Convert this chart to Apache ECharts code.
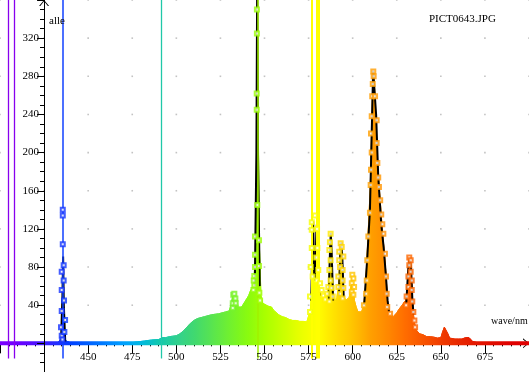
<!DOCTYPE html>
<html><head><meta charset="utf-8">
<script src="https://cdn.jsdelivr.net/npm/echarts@6/dist/echarts.min.js"></script>
<style>html,body{margin:0;padding:0;background:#fff}#c{width:529px;height:372px}</style>
</head><body><div id="c"></div>
<script>
// ---------------- data ----------------
const wavelengthNm = [400,430,431,433,434,434.5,435,435.5,436,436.5,437,438,440,445,470,474,478,482,486,490,491,492,493,494,496,498,500,502,503,504,505,506,507,508,509,510,511,512,514,516,518,520,522,524,526,528,530,531,532,533,534,535,536,537,538,539,540,541,542,543,544,545,545.5,546,546.5,547,548,549,550,552,554,555,556,558,560,562,564,566,568,570,572,574,575,576,576.5,577,577.5,578,579,579.5,580,581,582,583,584,585,586,587,587.5,588,588.5,589,590,591,592,592.5,593,593.5,594,594.5,595,596,597,598,599,599.5,600,600.5,601,602,603,604,605,606,606.5,607,608,609,610,610.5,611,611.5,612,612.5,613,614,615,616,617,618,619,619.5,620,621,622,623,624,625,626,627,628,629,630,630.5,631,631.5,632,632.5,633,633.5,634,634.5,635,636,637,638,640,642,644,646,648,650,651,652,653,654,655,656,658,660,662,664,665,666,667,668,670,672,674,700];
const intensity = [0,0,0.5,1,2,5,12,22,26,10,3,1,0.5,0,0,0.5,1.5,2.5,3.5,4,5,6,5,6,7,7.5,8,10,11.5,13,15,17,19,21,22.5,24,25,26,27,28,29,30,30.5,31,32,33,34,40,50,52,49,38,37,38,41,44,47,50,55,58,66,100,200,330,230,108,50,42,40,39,38,35,33,30,28,27,25,24,24,23,23,22.5,24,35,50,70,125,65,60,115,70,55,52,48,45,48,55,80,110,100,70,50,44,48,60,80,95,100,90,70,50,45,44,48,60,70,66,55,45,38,33,31,33,38,45,53,85,125,165,205,245,280,285,265,240,195,165,140,115,94,70,52,40,31,29,28,30,32,35,37,40,42,45,50,60,75,88,90,80,65,45,30,22,14,12,10,9,7,7,6.5,5.5,6,12,17,17,10,5.5,5,4.5,4.5,4.5,6,6.5,6,4,2,1,0.5,0,0];
const baselineNm = [400, 700];
const baselineVal = [0, 0];
const peakLineNm  = [434.6,435.4,435.8,436.2,437.0,null,544.5,545.4,545.9,546.3,547.3,null,576.5,577.2,577.6,578.2,578.8,579.4,579.8,580.4,581.2,null,586.3,587.2,587.6,588.1,588.9,null,592.2,593.0,593.5,594.1,594.9,null,606.5,608.3,609.8,610.8,611.6,612.2,613.3,614.5,616.2,617.6,618.8,619.8,620.6,null,630.4,631.5,632.3,633.1,633.8,634.5];
const peakLineVal = [2,50,91,40,2,null,60,200,400,200,60,null,45,110,128,70,66,118,126,70,50,null,45,100,116,95,45,null,50,95,106,92,48,null,40,90,140,220,286,284,240,175,125,100,72,45,33,null,42,78,90,80,48,30];
const markerNm = [435.0,434.6,435.0,435.0,435.0,435.6,435.6,435.6,436.1,436.1,436.3,436.9,436.5,435.4,
  532.0,532.0,532.3,532.9,533.5,533.7,
  544.2,543.7,543.9,544.2,544.6,544.6,544.6,545.9,545.6,545.6,545.7,545.7,546.9,546.9,547.1,547.5,
  575.8,575.8,576.2,576.8,576.8,576.8,578.6,577.3,579.6,580.5,581.5,582.4,583.4,584.5,579.8,580.0,579.3,
  585.6,586.2,586.8,586.8,586.8,587.1,587.5,587.5,587.5,588.1,588.7,
  591.9,591.9,592.4,592.4,592.8,592.8,593.2,593.8,594.3,594.3,594.3,594.7,594.7,
  599.8,600.4,599.5,600.8,599.5,600.4,
  606.4,607.6,608.0,608.3,608.9,609.8,610.2,610.4,610.8,610.4,610.8,611.1,611.4,611.7,611.9,612.7,613.6,613.6,614.0,614.5,614.9,615.6,616.2,616.8,617.4,618.3,618.9,619.3,619.6,621.2,
  632.1,632.9,632.1,632.9,631.6,633.5,631.6,633.5,630.6,633.8,630.3,634.4,635.0,635.4];
const markerVal = [8,17,34,56,75,104,134,140,82,66,45,24.5,12,4,
  42,37,51,52,47,42,
  61,56,66,70.5,80,93,112,145,245,262,325,350,108,81,53,45,
  33,49,80,100,119,127,134,70,66,77,63,56,50,46,120,100,90,
  52,59,98,77,44,106,115,87,66,58,49,
  70,59,96,87,80,52,105,101,77,66,47,91,58,
  72,68,63,59,54,51,
  40,52,66,87,112,137,166,182,200,220,238,259,272,285,280,259,234,210,189,174,164,150,135,125,115,94,70,52,38,31,
  90,87,82,75,70,66,59,56,49,44,40,33,24,17];
const hgLineNm = [404.7, 407.8, 435.8, 491.6, 546.1, 577.0, 579.6, 580.6];
const xTickLabels = [450, 475, 500, 525, 550, 575, 600, 625, 650, 675];
const yTickLabels = [40, 80, 120, 160, 200, 240, 280, 320];
const gridXNm = [400, 425, 450, 475, 500, 525, 550, 575, 600, 625, 650, 675, 700];
const gridYVal = [40, 80, 120, 160, 200, 240, 280, 320, 360];
const titleText = 'PICT0643.JPG';
const yName = 'alle';
const xName = 'wave/nm';

// ---------------- styles ----------------
const spectrumColors = ['#7a00ff','#6c00ff','#5010ff','#2c28ff','#0040ff','#0060ff','#0080ff','#00a0ff','#00b8e0','#10c8b0',
  '#30d090','#40d870','#58e450','#70f030','#88fa10','#a8ff00','#c8ff00','#e8ff00','#ffff00','#ffe000',
  '#ffc400','#ffa000','#ff8800','#ff6c00','#f85400','#f03c00','#e82800','#e41800','#e00c00','#e00000','#e00000'];
const hgLineColor = ['#8800ee','#8800ee','#1040ff','#20c8a8','#a0f000','#ffff00','#ffff00','#ffff00'];
const hgLineWidth = [1.3,1.3,1.5,1.3,1.5,2,2,2];
const FONT = 'Liberation Serif';
const LABEL_FONT = '11px "' + FONT + '"';
const chevron = 'path://M5,0 L10,6 L8.8,6 L5,1.3 L1.2,6 L0,6 Z';

const pairs = (a, b) => a.map((v, i) => [v == null ? '-' : v, b[i] == null ? '-' : b[i]]);
const gridDots = [];
gridXNm.forEach(x => gridYVal.forEach(y => gridDots.push([x, y])));

const baseGraphics = [
  {type: 'text', left: 429, top: 14, silent: true, z: 20,
   style: {text: titleText, font: LABEL_FONT, fill: '#000'}},
  {type: 'text', left: 49, top: 16, silent: true, z: 20,
   style: {text: yName, font: LABEL_FONT, fill: '#000'}},
  {type: 'text', left: 491, top: 316, silent: true, z: 20,
   style: {text: xName, font: '10px "' + FONT + '"', fill: '#000'}}
];

const chart = echarts.init(document.getElementById('c'), null, {renderer: 'canvas'});
chart.setOption({
  animation: false,
  backgroundColor: '#fff',
  grid: {left: 0, top: 0, width: 529, height: 381.5, containLabel: false,
         outerBounds: {left: -2000, right: -2000, top: -2000, bottom: -2000}},
  xAxis: [
    {type: 'value', min: 400, max: 700, interval: 25, z: 1,
     axisLine: {onZero: true, onZeroAxisIndex: 0, lineStyle: {color: '#000', width: 1},
       symbol: ['none', chevron], symbolSize: [11, 6], symbolOffset: [0, -3]},
     axisTick: {show: true, length: 10, lineStyle: {color: '#000'}},
     minorTick: {show: true, splitNumber: 5, length: 3, lineStyle: {color: '#000'}},
     axisLabel: {show: false},
     splitLine: {show: false}},
    {type: 'value', min: -25, max: 275, show: true,
     axisLine: {show: false, onZero: false}, axisTick: {show: false}, axisLabel: {show: false}, splitLine: {show: false}},
    {type: 'value', min: 400, max: 700, interval: 5, z: 1,
     axisLine: {show: true, onZero: true, onZeroAxisIndex: 0, lineStyle: {color: 'rgba(0,0,0,0)'}},
     axisTick: {show: true, inside: true, length: 2.5, lineStyle: {color: '#000'}},
     axisLabel: {show: false}, splitLine: {show: false}}
  ],
  yAxis: [
    {type: 'value', min: -40, max: 360, interval: 40, z: 10,
     axisLine: {onZero: true, onZeroAxisIndex: 1, lineStyle: {color: '#000', width: 1},
       symbol: ['none', chevron], symbolSize: [13, 6], symbolOffset: [0, -3]},
     axisTick: {show: true, length: 6, lineStyle: {color: '#000'}},
     minorTick: {show: true, splitNumber: 4, length: 4, lineStyle: {color: '#000'}},
     axisLabel: {show: false},
     splitLine: {show: false}},
    {type: 'value', min: -40, max: 360, interval: 40, z: 10,
     axisLine: {show: true, onZero: true, onZeroAxisIndex: 1, lineStyle: {color: 'rgba(0,0,0,0)'}},
     axisTick: {show: true, inside: true, length: 7, lineStyle: {color: '#000'}},
     minorTick: {show: true, splitNumber: 4, length: 4, lineStyle: {color: '#000'}},
     axisLabel: {show: false}, splitLine: {show: false}}
  ],
  visualMap: {type: 'continuous', show: false, dimension: 0, min: 400, max: 700,
    seriesIndex: [0, 1, 4], inRange: {color: spectrumColors}},
  graphic: baseGraphics,
  series: [
    {type: 'line', name: 'spectrum', data: pairs(wavelengthNm, intensity), z: 2,
     symbol: 'none', lineStyle: {width: 1}, areaStyle: {opacity: 1}, silent: true},
    {type: 'line', name: 'baseline', data: pairs(baselineNm, baselineVal), z: 2,
     symbol: 'none', lineStyle: {width: 4}, silent: true},
    {type: 'line', name: 'hg', data: [], z: 3, silent: true,
     markLine: {symbol: 'none', silent: true, label: {show: false}, animation: false,
       data: hgLineNm.map((nm, i) => [
         {coord: [nm, -16], lineStyle: {color: hgLineColor[i], width: hgLineWidth[i], type: 'solid'}},
         {coord: [nm, 360]}])}},
    {type: 'line', name: 'peaks', data: pairs(peakLineNm, peakLineVal), z: 4,
     symbol: 'none', connectNulls: false, lineStyle: {color: '#000', width: 2}, silent: true},
    {type: 'scatter', name: 'points', data: pairs(markerNm, markerVal), z: 5,
     symbol: 'emptyRect', symbolSize: 4, silent: true},
    {type: 'scatter', name: 'grid', data: gridDots, z: 1, symbol: 'rect', symbolSize: 1.6,
     itemStyle: {color: '#b4b4b4'}, silent: true}
  ]
});

// tick labels placed through the chart's own axis scales
const axisX0 = chart.convertToPixel({xAxisIndex: 1}, 0);
const axisY0 = chart.convertToPixel({yAxisIndex: 0}, 0);
const tickLabelGraphics = [];
xTickLabels.forEach(v => {
  const px = chart.convertToPixel({xAxisIndex: 0}, v);
  tickLabelGraphics.push({type: 'text', x: px, y: axisY0 + 8, silent: true, z: 20,
    style: {text: String(v), font: LABEL_FONT, fill: '#000', align: 'center', verticalAlign: 'top'}});
});
yTickLabels.forEach(v => {
  const py = chart.convertToPixel({yAxisIndex: 0}, v);
  tickLabelGraphics.push({type: 'text', x: axisX0 - 5, y: py, silent: true, z: 20,
    style: {text: String(v), font: LABEL_FONT, fill: '#000', align: 'right', verticalAlign: 'middle'}});
});
chart.setOption({graphic: baseGraphics.concat(tickLabelGraphics)});
</script></body></html>
